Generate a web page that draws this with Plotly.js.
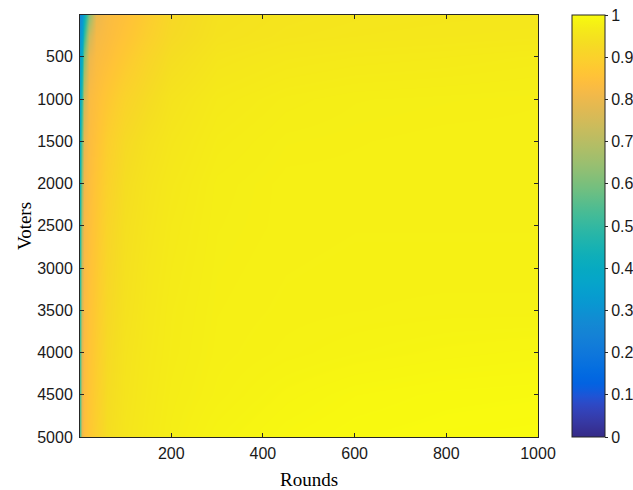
<!DOCTYPE html>
<html>
<head>
<meta charset="utf-8">
<script src="https://cdn.plot.ly/plotly-3.0.1.min.js"></script>
<style>html,body{margin:0;padding:0;background:#fff;}#chart{width:633px;height:490px;}</style>
</head>
<body>
<div id="chart"></div>
<script>
// Rounds (x) sample columns and Voters (y) sample rows
var rounds = [1, 5, 10, 20, 35, 60, 100, 150, 200, 300, 450, 600, 800, 1000];
var voters = [0, 250, 500, 1000, 1500, 2000, 2500, 3000, 3500, 4000, 4500, 5000];
var values = [
  [0.26, 0.30, 0.40, 0.62, 0.80, 0.83, 0.85, 0.885, 0.92, 0.945, 0.952, 0.955, 0.957, 0.958],
  [0.30, 0.35, 0.50, 0.74, 0.82, 0.835, 0.86, 0.895, 0.925, 0.948, 0.955, 0.958, 0.96, 0.962],
  [0.34, 0.42, 0.62, 0.80, 0.83, 0.845, 0.875, 0.91, 0.935, 0.955, 0.962, 0.965, 0.967, 0.97],
  [0.38, 0.52, 0.74, 0.83, 0.845, 0.87, 0.905, 0.93, 0.95, 0.965, 0.972, 0.975, 0.976, 0.977],
  [0.42, 0.60, 0.79, 0.835, 0.855, 0.89, 0.925, 0.945, 0.957, 0.97, 0.976, 0.977, 0.978, 0.978],
  [0.45, 0.66, 0.81, 0.84, 0.865, 0.90, 0.935, 0.952, 0.962, 0.974, 0.978, 0.978, 0.978, 0.978],
  [0.48, 0.71, 0.82, 0.845, 0.87, 0.91, 0.94, 0.955, 0.965, 0.975, 0.978, 0.979, 0.979, 0.979],
  [0.50, 0.74, 0.825, 0.85, 0.875, 0.915, 0.943, 0.958, 0.967, 0.976, 0.979, 0.98, 0.98, 0.98],
  [0.52, 0.76, 0.83, 0.855, 0.88, 0.92, 0.946, 0.96, 0.969, 0.977, 0.98, 0.981, 0.982, 0.982],
  [0.54, 0.78, 0.835, 0.86, 0.885, 0.925, 0.95, 0.962, 0.97, 0.978, 0.982, 0.985, 0.988, 0.99],
  [0.55, 0.79, 0.84, 0.865, 0.89, 0.93, 0.952, 0.964, 0.972, 0.98, 0.988, 0.993, 0.996, 0.997],
  [0.56, 0.80, 0.845, 0.87, 0.895, 0.935, 0.955, 0.966, 0.974, 0.985, 0.993, 0.997, 0.999, 1.0]
];
var xTicks = [200, 400, 600, 800, 1000];
var yTicks = [500, 1000, 1500, 2000, 2500, 3000, 3500, 4000, 4500, 5000];
var cbTicks = [0, 0.1, 0.2, 0.3, 0.4, 0.5, 0.6, 0.7, 0.8, 0.9, 1];
var cbTickText = ['0', '0.1', '0.2', '0.3', '0.4', '0.5', '0.6', '0.7', '0.8', '0.9', '1'];

// MATLAB parula colormap (64 entries)
var parula = [
[0.2081,0.1663,0.5292],[0.2116,0.1898,0.5777],[0.2123,0.2138,0.6270],[0.2081,0.2386,0.6771],
[0.1959,0.2645,0.7279],[0.1707,0.2919,0.7792],[0.1253,0.3242,0.8303],[0.0591,0.3598,0.8683],
[0.0117,0.3875,0.8820],[0.0060,0.4086,0.8828],[0.0165,0.4266,0.8786],[0.0329,0.4430,0.8720],
[0.0498,0.4586,0.8641],[0.0629,0.4737,0.8554],[0.0723,0.4887,0.8467],[0.0779,0.5040,0.8384],
[0.0793,0.5200,0.8312],[0.0749,0.5375,0.8263],[0.0641,0.5570,0.8240],[0.0488,0.5772,0.8228],
[0.0343,0.5966,0.8199],[0.0265,0.6137,0.8135],[0.0239,0.6287,0.8038],[0.0231,0.6418,0.7913],
[0.0228,0.6535,0.7768],[0.0267,0.6642,0.7607],[0.0384,0.6743,0.7436],[0.0590,0.6838,0.7254],
[0.0843,0.6928,0.7062],[0.1133,0.7015,0.6859],[0.1453,0.7098,0.6646],[0.1801,0.7177,0.6424],
[0.2178,0.7250,0.6193],[0.2586,0.7317,0.5954],[0.3022,0.7376,0.5712],[0.3482,0.7424,0.5473],
[0.3953,0.7459,0.5244],[0.4420,0.7481,0.5033],[0.4871,0.7491,0.4840],[0.5300,0.7491,0.4661],
[0.5709,0.7485,0.4494],[0.6099,0.7473,0.4337],[0.6473,0.7456,0.4188],[0.6834,0.7435,0.4044],
[0.7184,0.7411,0.3905],[0.7525,0.7384,0.3768],[0.7858,0.7356,0.3633],[0.8185,0.7327,0.3498],
[0.8507,0.7299,0.3360],[0.8824,0.7274,0.3217],[0.9139,0.7258,0.3063],[0.9450,0.7261,0.2886],
[0.9739,0.7314,0.2666],[0.9938,0.7455,0.2403],[0.9990,0.7653,0.2164],[0.9955,0.7861,0.1967],
[0.9880,0.8066,0.1794],[0.9789,0.8271,0.1633],[0.9697,0.8481,0.1475],[0.9626,0.8705,0.1309],
[0.9589,0.8949,0.1132],[0.9598,0.9218,0.0948],[0.9661,0.9514,0.0755],[0.9763,0.9831,0.0538]
];
var colorscale = parula.map(function (c, i) {
  return [i / (parula.length - 1),
    'rgb(' + Math.round(c[0] * 255) + ',' + Math.round(c[1] * 255) + ',' + Math.round(c[2] * 255) + ')'];
});

var axisColor = '#262626';
var tickFont = {family: 'Liberation Sans, Arial, sans-serif', size: 16, color: '#1a1a1a'};
var titleFont = {family: 'Liberation Serif, Times New Roman, serif', size: 19, color: '#000'};

var trace = {
  type: 'heatmap',
  x: rounds,
  y: voters,
  z: values,
  zmin: 0,
  zmax: 1,
  zsmooth: 'best',
  colorscale: colorscale,
  colorbar: {
    x: 1.074,
    xanchor: 'left',
    y: 0.5,
    yanchor: 'middle',
    len: 1,
    lenmode: 'fraction',
    thickness: 33,
    thicknessmode: 'pixels',
    outlinewidth: 1,
    outlinecolor: axisColor,
    tickvals: cbTicks,
    ticktext: cbTickText,
    ticks: 'outside',
    ticklen: 3,
    tickcolor: axisColor,
    tickfont: tickFont,
    xpad: 0,
    ypad: 0
  }
};

var layout = {
  width: 633,
  height: 490,
  margin: {l: 80, r: 95, t: 15, b: 53, autoexpand: false},
  paper_bgcolor: '#fff',
  plot_bgcolor: '#fff',
  xaxis: {
    range: [1, 1000],
    tickvals: xTicks,
    ticks: 'inside',
    ticklen: 4,
    tickcolor: axisColor,
    showline: true,
    linecolor: axisColor,
    linewidth: 1,
    mirror: 'ticks',
    showgrid: false,
    zeroline: false,
    tickfont: tickFont,
    ticklabelstandoff: 2,
    title: {text: 'Rounds', font: titleFont, standoff: 14}
  },
  yaxis: {
    range: [5000, 5],
    tickvals: yTicks,
    ticks: 'inside',
    ticklen: 4,
    tickcolor: axisColor,
    showline: true,
    linecolor: axisColor,
    linewidth: 1,
    mirror: 'ticks',
    showgrid: false,
    zeroline: false,
    tickfont: tickFont,
    ticklabelstandoff: 3,
    title: {text: 'Voters', font: titleFont}
  }
};

Plotly.newPlot('chart', [trace], layout, {displayModeBar: false, staticPlot: true});
</script>
</body>
</html>
